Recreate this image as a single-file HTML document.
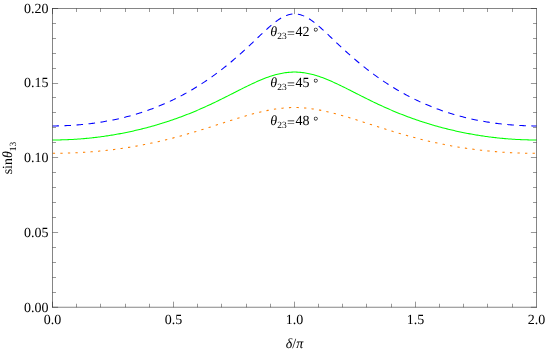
<!DOCTYPE html>
<html><head><meta charset="utf-8"><title>plot</title>
<style>html,body{margin:0;padding:0;background:#fff;width:545px;height:351px;overflow:hidden}</style></head>
<body>
<svg width="545" height="351" viewBox="0 0 545 351" style="display:block;position:absolute;left:0;top:0">
<rect width="545" height="351" fill="#fff"/>
<path d="M52.50,125.92 L53.71,125.92 L54.92,125.91 L56.13,125.90 L57.34,125.88 L58.55,125.86 L59.76,125.83 L60.97,125.80 L62.18,125.77 L63.39,125.73 L64.60,125.69 L65.81,125.64 L67.02,125.58 L68.23,125.53 L69.44,125.46 L70.65,125.40 L71.86,125.32 L73.07,125.25 L74.28,125.16 L75.49,125.08 L76.70,124.99 L77.91,124.89 L79.12,124.79 L80.33,124.68 L81.54,124.57 L82.75,124.46 L83.96,124.34 L85.17,124.21 L86.38,124.08 L87.59,123.95 L88.80,123.81 L90.01,123.66 L91.22,123.51 L92.43,123.36 L93.64,123.20 L94.85,123.03 L96.06,122.86 L97.27,122.69 L98.48,122.51 L99.69,122.32 L100.90,122.13 L102.11,121.94 L103.32,121.73 L104.53,121.53 L105.74,121.32 L106.95,121.10 L108.16,120.88 L109.37,120.65 L110.58,120.41 L111.79,120.17 L113.00,119.93 L114.21,119.68 L115.42,119.42 L116.63,119.16 L117.84,118.89 L119.05,118.62 L120.26,118.34 L121.47,118.06 L122.68,117.77 L123.89,117.47 L125.10,117.17 L126.31,116.86 L127.52,116.55 L128.73,116.22 L129.94,115.90 L131.15,115.57 L132.36,115.23 L133.57,114.88 L134.78,114.53 L135.99,114.17 L137.20,113.81 L138.41,113.44 L139.62,113.06 L140.83,112.67 L142.04,112.28 L143.25,111.89 L144.46,111.48 L145.67,111.07 L146.88,110.65 L148.09,110.23 L149.30,109.80 L150.51,109.36 L151.72,108.92 L152.93,108.46 L154.14,108.00 L155.35,107.54 L156.56,107.06 L157.77,106.58 L158.98,106.09 L160.19,105.60 L161.40,105.09 L162.61,104.58 L163.82,104.06 L165.03,103.54 L166.24,103.00 L167.45,102.46 L168.66,101.91 L169.87,101.36 L171.08,100.79 L172.29,100.22 L173.50,99.64 L174.71,99.05 L175.92,98.45 L177.13,97.85 L178.34,97.23 L179.55,96.61 L180.76,95.98 L181.97,95.34 L183.18,94.70 L184.39,94.04 L185.60,93.38 L186.81,92.71 L188.02,92.03 L189.23,91.34 L190.44,90.64 L191.65,89.93 L192.86,89.22 L194.07,88.50 L195.28,87.76 L196.49,87.02 L197.70,86.27 L198.91,85.51 L200.12,84.74 L201.33,83.97 L202.54,83.18 L203.75,82.38 L204.96,81.58 L206.17,80.77 L207.38,79.94 L208.59,79.11 L209.80,78.27 L211.01,77.42 L212.22,76.56 L213.43,75.69 L214.64,74.81 L215.85,73.92 L217.06,73.02 L218.27,72.11 L219.48,71.20 L220.69,70.27 L221.90,69.34 L223.11,68.39 L224.32,67.44 L225.53,66.47 L226.74,65.50 L227.95,64.51 L229.16,63.52 L230.37,62.52 L231.58,61.51 L232.79,60.49 L234.00,59.45 L235.21,58.42 L236.42,57.37 L237.63,56.31 L238.84,55.24 L240.05,54.17 L241.26,53.08 L242.47,51.99 L243.68,50.89 L244.89,49.78 L246.10,48.67 L247.31,47.55 L248.52,46.42 L249.73,45.29 L250.94,44.15 L252.15,43.01 L253.36,41.86 L254.57,40.71 L255.78,39.56 L256.99,38.40 L258.20,37.25 L259.41,36.10 L260.62,34.95 L261.83,33.81 L263.04,32.68 L264.25,31.55 L265.46,30.43 L266.67,29.33 L267.88,28.24 L269.09,27.16 L270.30,26.11 L271.51,25.08 L272.72,24.08 L273.93,23.10 L275.14,22.15 L276.35,21.25 L277.56,20.37 L278.77,19.55 L279.98,18.76 L281.19,18.02 L282.40,17.34 L283.61,16.71 L284.82,16.14 L286.03,15.62 L287.24,15.17 L288.45,14.79 L289.66,14.47 L290.87,14.22 L292.08,14.04 L293.29,13.93 L294.50,13.90 L295.71,13.93 L296.92,14.04 L298.13,14.22 L299.34,14.47 L300.55,14.79 L301.76,15.17 L302.97,15.62 L304.18,16.14 L305.39,16.71 L306.60,17.34 L307.81,18.02 L309.02,18.76 L310.23,19.55 L311.44,20.37 L312.65,21.25 L313.86,22.15 L315.07,23.10 L316.28,24.08 L317.49,25.08 L318.70,26.11 L319.91,27.16 L321.12,28.24 L322.33,29.33 L323.54,30.43 L324.75,31.55 L325.96,32.68 L327.17,33.81 L328.38,34.95 L329.59,36.10 L330.80,37.25 L332.01,38.40 L333.22,39.56 L334.43,40.71 L335.64,41.86 L336.85,43.01 L338.06,44.15 L339.27,45.29 L340.48,46.42 L341.69,47.55 L342.90,48.67 L344.11,49.78 L345.32,50.89 L346.53,51.99 L347.74,53.08 L348.95,54.17 L350.16,55.24 L351.37,56.31 L352.58,57.37 L353.79,58.42 L355.00,59.45 L356.21,60.49 L357.42,61.51 L358.63,62.52 L359.84,63.52 L361.05,64.51 L362.26,65.50 L363.47,66.47 L364.68,67.44 L365.89,68.39 L367.10,69.34 L368.31,70.27 L369.52,71.20 L370.73,72.11 L371.94,73.02 L373.15,73.92 L374.36,74.81 L375.57,75.69 L376.78,76.56 L377.99,77.42 L379.20,78.27 L380.41,79.11 L381.62,79.94 L382.83,80.77 L384.04,81.58 L385.25,82.38 L386.46,83.18 L387.67,83.97 L388.88,84.74 L390.09,85.51 L391.30,86.27 L392.51,87.02 L393.72,87.76 L394.93,88.50 L396.14,89.22 L397.35,89.93 L398.56,90.64 L399.77,91.34 L400.98,92.03 L402.19,92.71 L403.40,93.38 L404.61,94.04 L405.82,94.70 L407.03,95.34 L408.24,95.98 L409.45,96.61 L410.66,97.23 L411.87,97.85 L413.08,98.45 L414.29,99.05 L415.50,99.64 L416.71,100.22 L417.92,100.79 L419.13,101.36 L420.34,101.91 L421.55,102.46 L422.76,103.00 L423.97,103.54 L425.18,104.06 L426.39,104.58 L427.60,105.09 L428.81,105.60 L430.02,106.09 L431.23,106.58 L432.44,107.06 L433.65,107.54 L434.86,108.00 L436.07,108.46 L437.28,108.92 L438.49,109.36 L439.70,109.80 L440.91,110.23 L442.12,110.65 L443.33,111.07 L444.54,111.48 L445.75,111.89 L446.96,112.28 L448.17,112.67 L449.38,113.06 L450.59,113.44 L451.80,113.81 L453.01,114.17 L454.22,114.53 L455.43,114.88 L456.64,115.23 L457.85,115.57 L459.06,115.90 L460.27,116.22 L461.48,116.55 L462.69,116.86 L463.90,117.17 L465.11,117.47 L466.32,117.77 L467.53,118.06 L468.74,118.34 L469.95,118.62 L471.16,118.89 L472.37,119.16 L473.58,119.42 L474.79,119.68 L476.00,119.93 L477.21,120.17 L478.42,120.41 L479.63,120.65 L480.84,120.88 L482.05,121.10 L483.26,121.32 L484.47,121.53 L485.68,121.73 L486.89,121.94 L488.10,122.13 L489.31,122.32 L490.52,122.51 L491.73,122.69 L492.94,122.86 L494.15,123.03 L495.36,123.20 L496.57,123.36 L497.78,123.51 L498.99,123.66 L500.20,123.81 L501.41,123.95 L502.62,124.08 L503.83,124.21 L505.04,124.34 L506.25,124.46 L507.46,124.57 L508.67,124.68 L509.88,124.79 L511.09,124.89 L512.30,124.99 L513.51,125.08 L514.72,125.16 L515.93,125.25 L517.14,125.32 L518.35,125.40 L519.56,125.46 L520.77,125.53 L521.98,125.58 L523.19,125.64 L524.40,125.69 L525.61,125.73 L526.82,125.77 L528.03,125.80 L529.24,125.83 L530.45,125.86 L531.66,125.88 L532.87,125.90 L534.08,125.91 L535.29,125.92 L536.50,125.92" fill="none" stroke="#0000ff" stroke-width="1.05" stroke-dasharray="6.6 5.5" stroke-dashoffset="0.2"/>
<path d="M52.50,139.98 L53.71,139.98 L54.92,139.98 L56.13,139.97 L57.34,139.95 L58.55,139.93 L59.76,139.91 L60.97,139.88 L62.18,139.85 L63.39,139.82 L64.60,139.78 L65.81,139.74 L67.02,139.69 L68.23,139.64 L69.44,139.59 L70.65,139.53 L71.86,139.46 L73.07,139.40 L74.28,139.33 L75.49,139.25 L76.70,139.17 L77.91,139.09 L79.12,139.00 L80.33,138.91 L81.54,138.82 L82.75,138.72 L83.96,138.61 L85.17,138.51 L86.38,138.39 L87.59,138.28 L88.80,138.16 L90.01,138.04 L91.22,137.91 L92.43,137.78 L93.64,137.64 L94.85,137.50 L96.06,137.36 L97.27,137.21 L98.48,137.06 L99.69,136.90 L100.90,136.74 L102.11,136.58 L103.32,136.41 L104.53,136.24 L105.74,136.06 L106.95,135.88 L108.16,135.70 L109.37,135.51 L110.58,135.32 L111.79,135.12 L113.00,134.92 L114.21,134.72 L115.42,134.51 L116.63,134.30 L117.84,134.08 L119.05,133.86 L120.26,133.63 L121.47,133.40 L122.68,133.17 L123.89,132.93 L125.10,132.69 L126.31,132.45 L127.52,132.20 L128.73,131.94 L129.94,131.69 L131.15,131.42 L132.36,131.16 L133.57,130.89 L134.78,130.61 L135.99,130.34 L137.20,130.05 L138.41,129.77 L139.62,129.47 L140.83,129.18 L142.04,128.88 L143.25,128.57 L144.46,128.27 L145.67,127.95 L146.88,127.64 L148.09,127.31 L149.30,126.99 L150.51,126.66 L151.72,126.32 L152.93,125.98 L154.14,125.64 L155.35,125.29 L156.56,124.94 L157.77,124.58 L158.98,124.22 L160.19,123.85 L161.40,123.48 L162.61,123.11 L163.82,122.73 L165.03,122.34 L166.24,121.95 L167.45,121.56 L168.66,121.16 L169.87,120.76 L171.08,120.35 L172.29,119.94 L173.50,119.52 L174.71,119.10 L175.92,118.67 L177.13,118.24 L178.34,117.80 L179.55,117.36 L180.76,116.91 L181.97,116.46 L183.18,116.00 L184.39,115.54 L185.60,115.07 L186.81,114.60 L188.02,114.12 L189.23,113.64 L190.44,113.16 L191.65,112.67 L192.86,112.17 L194.07,111.67 L195.28,111.16 L196.49,110.65 L197.70,110.14 L198.91,109.62 L200.12,109.09 L201.33,108.56 L202.54,108.03 L203.75,107.49 L204.96,106.94 L206.17,106.39 L207.38,105.84 L208.59,105.28 L209.80,104.72 L211.01,104.16 L212.22,103.59 L213.43,103.01 L214.64,102.43 L215.85,101.85 L217.06,101.27 L218.27,100.68 L219.48,100.09 L220.69,99.49 L221.90,98.89 L223.11,98.29 L224.32,97.69 L225.53,97.08 L226.74,96.47 L227.95,95.86 L229.16,95.25 L230.37,94.64 L231.58,94.02 L232.79,93.41 L234.00,92.79 L235.21,92.18 L236.42,91.56 L237.63,90.95 L238.84,90.34 L240.05,89.73 L241.26,89.12 L242.47,88.51 L243.68,87.90 L244.89,87.30 L246.10,86.70 L247.31,86.11 L248.52,85.52 L249.73,84.93 L250.94,84.35 L252.15,83.78 L253.36,83.22 L254.57,82.66 L255.78,82.11 L256.99,81.56 L258.20,81.03 L259.41,80.51 L260.62,79.99 L261.83,79.49 L263.04,79.00 L264.25,78.52 L265.46,78.06 L266.67,77.60 L267.88,77.17 L269.09,76.74 L270.30,76.33 L271.51,75.94 L272.72,75.56 L273.93,75.20 L275.14,74.86 L276.35,74.54 L277.56,74.23 L278.77,73.94 L279.98,73.67 L281.19,73.43 L282.40,73.20 L283.61,72.99 L284.82,72.80 L286.03,72.64 L287.24,72.49 L288.45,72.37 L289.66,72.27 L290.87,72.19 L292.08,72.14 L293.29,72.10 L294.50,72.09 L295.71,72.10 L296.92,72.14 L298.13,72.19 L299.34,72.27 L300.55,72.37 L301.76,72.49 L302.97,72.64 L304.18,72.80 L305.39,72.99 L306.60,73.20 L307.81,73.43 L309.02,73.67 L310.23,73.94 L311.44,74.23 L312.65,74.54 L313.86,74.86 L315.07,75.20 L316.28,75.56 L317.49,75.94 L318.70,76.33 L319.91,76.74 L321.12,77.17 L322.33,77.60 L323.54,78.06 L324.75,78.52 L325.96,79.00 L327.17,79.49 L328.38,79.99 L329.59,80.51 L330.80,81.03 L332.01,81.56 L333.22,82.11 L334.43,82.66 L335.64,83.22 L336.85,83.78 L338.06,84.35 L339.27,84.93 L340.48,85.52 L341.69,86.11 L342.90,86.70 L344.11,87.30 L345.32,87.90 L346.53,88.51 L347.74,89.12 L348.95,89.73 L350.16,90.34 L351.37,90.95 L352.58,91.56 L353.79,92.18 L355.00,92.79 L356.21,93.41 L357.42,94.02 L358.63,94.64 L359.84,95.25 L361.05,95.86 L362.26,96.47 L363.47,97.08 L364.68,97.69 L365.89,98.29 L367.10,98.89 L368.31,99.49 L369.52,100.09 L370.73,100.68 L371.94,101.27 L373.15,101.85 L374.36,102.43 L375.57,103.01 L376.78,103.59 L377.99,104.16 L379.20,104.72 L380.41,105.28 L381.62,105.84 L382.83,106.39 L384.04,106.94 L385.25,107.49 L386.46,108.03 L387.67,108.56 L388.88,109.09 L390.09,109.62 L391.30,110.14 L392.51,110.65 L393.72,111.16 L394.93,111.67 L396.14,112.17 L397.35,112.67 L398.56,113.16 L399.77,113.64 L400.98,114.12 L402.19,114.60 L403.40,115.07 L404.61,115.54 L405.82,116.00 L407.03,116.46 L408.24,116.91 L409.45,117.36 L410.66,117.80 L411.87,118.24 L413.08,118.67 L414.29,119.10 L415.50,119.52 L416.71,119.94 L417.92,120.35 L419.13,120.76 L420.34,121.16 L421.55,121.56 L422.76,121.95 L423.97,122.34 L425.18,122.73 L426.39,123.11 L427.60,123.48 L428.81,123.85 L430.02,124.22 L431.23,124.58 L432.44,124.94 L433.65,125.29 L434.86,125.64 L436.07,125.98 L437.28,126.32 L438.49,126.66 L439.70,126.99 L440.91,127.31 L442.12,127.64 L443.33,127.95 L444.54,128.27 L445.75,128.57 L446.96,128.88 L448.17,129.18 L449.38,129.47 L450.59,129.77 L451.80,130.05 L453.01,130.34 L454.22,130.61 L455.43,130.89 L456.64,131.16 L457.85,131.42 L459.06,131.69 L460.27,131.94 L461.48,132.20 L462.69,132.45 L463.90,132.69 L465.11,132.93 L466.32,133.17 L467.53,133.40 L468.74,133.63 L469.95,133.86 L471.16,134.08 L472.37,134.30 L473.58,134.51 L474.79,134.72 L476.00,134.92 L477.21,135.12 L478.42,135.32 L479.63,135.51 L480.84,135.70 L482.05,135.88 L483.26,136.06 L484.47,136.24 L485.68,136.41 L486.89,136.58 L488.10,136.74 L489.31,136.90 L490.52,137.06 L491.73,137.21 L492.94,137.36 L494.15,137.50 L495.36,137.64 L496.57,137.78 L497.78,137.91 L498.99,138.04 L500.20,138.16 L501.41,138.28 L502.62,138.39 L503.83,138.51 L505.04,138.61 L506.25,138.72 L507.46,138.82 L508.67,138.91 L509.88,139.00 L511.09,139.09 L512.30,139.17 L513.51,139.25 L514.72,139.33 L515.93,139.40 L517.14,139.46 L518.35,139.53 L519.56,139.59 L520.77,139.64 L521.98,139.69 L523.19,139.74 L524.40,139.78 L525.61,139.82 L526.82,139.85 L528.03,139.88 L529.24,139.91 L530.45,139.93 L531.66,139.95 L532.87,139.97 L534.08,139.98 L535.29,139.98 L536.50,139.98" fill="none" stroke="#00ff00" stroke-width="1.05"/>
<path d="M52.50,153.33 L53.71,153.33 L54.92,153.32 L56.13,153.31 L57.34,153.30 L58.55,153.29 L59.76,153.27 L60.97,153.26 L62.18,153.23 L63.39,153.21 L64.60,153.18 L65.81,153.15 L67.02,153.12 L68.23,153.08 L69.44,153.04 L70.65,153.00 L71.86,152.95 L73.07,152.91 L74.28,152.85 L75.49,152.80 L76.70,152.74 L77.91,152.68 L79.12,152.62 L80.33,152.55 L81.54,152.48 L82.75,152.41 L83.96,152.34 L85.17,152.26 L86.38,152.18 L87.59,152.09 L88.80,152.01 L90.01,151.92 L91.22,151.82 L92.43,151.73 L93.64,151.63 L94.85,151.52 L96.06,151.42 L97.27,151.31 L98.48,151.20 L99.69,151.08 L100.90,150.96 L102.11,150.84 L103.32,150.72 L104.53,150.59 L105.74,150.46 L106.95,150.33 L108.16,150.19 L109.37,150.05 L110.58,149.91 L111.79,149.76 L113.00,149.61 L114.21,149.46 L115.42,149.30 L116.63,149.14 L117.84,148.98 L119.05,148.81 L120.26,148.64 L121.47,148.47 L122.68,148.30 L123.89,148.12 L125.10,147.94 L126.31,147.75 L127.52,147.56 L128.73,147.37 L129.94,147.17 L131.15,146.97 L132.36,146.77 L133.57,146.57 L134.78,146.36 L135.99,146.14 L137.20,145.93 L138.41,145.71 L139.62,145.49 L140.83,145.26 L142.04,145.03 L143.25,144.80 L144.46,144.56 L145.67,144.32 L146.88,144.08 L148.09,143.83 L149.30,143.58 L150.51,143.33 L151.72,143.07 L152.93,142.81 L154.14,142.55 L155.35,142.28 L156.56,142.01 L157.77,141.74 L158.98,141.46 L160.19,141.18 L161.40,140.90 L162.61,140.61 L163.82,140.32 L165.03,140.03 L166.24,139.73 L167.45,139.43 L168.66,139.13 L169.87,138.82 L171.08,138.51 L172.29,138.20 L173.50,137.88 L174.71,137.56 L175.92,137.24 L177.13,136.91 L178.34,136.59 L179.55,136.25 L180.76,135.92 L181.97,135.58 L183.18,135.24 L184.39,134.90 L185.60,134.56 L186.81,134.21 L188.02,133.86 L189.23,133.50 L190.44,133.15 L191.65,132.79 L192.86,132.43 L194.07,132.07 L195.28,131.70 L196.49,131.34 L197.70,130.97 L198.91,130.59 L200.12,130.22 L201.33,129.85 L202.54,129.47 L203.75,129.09 L204.96,128.71 L206.17,128.33 L207.38,127.95 L208.59,127.56 L209.80,127.18 L211.01,126.79 L212.22,126.41 L213.43,126.02 L214.64,125.63 L215.85,125.24 L217.06,124.85 L218.27,124.46 L219.48,124.07 L220.69,123.68 L221.90,123.29 L223.11,122.90 L224.32,122.52 L225.53,122.13 L226.74,121.74 L227.95,121.35 L229.16,120.97 L230.37,120.59 L231.58,120.20 L232.79,119.82 L234.00,119.44 L235.21,119.07 L236.42,118.69 L237.63,118.32 L238.84,117.95 L240.05,117.58 L241.26,117.22 L242.47,116.86 L243.68,116.50 L244.89,116.15 L246.10,115.80 L247.31,115.45 L248.52,115.11 L249.73,114.77 L250.94,114.44 L252.15,114.11 L253.36,113.78 L254.57,113.46 L255.78,113.15 L256.99,112.84 L258.20,112.54 L259.41,112.25 L260.62,111.96 L261.83,111.68 L263.04,111.40 L264.25,111.13 L265.46,110.87 L266.67,110.62 L267.88,110.37 L269.09,110.14 L270.30,109.91 L271.51,109.69 L272.72,109.48 L273.93,109.28 L275.14,109.08 L276.35,108.90 L277.56,108.73 L278.77,108.57 L279.98,108.42 L281.19,108.28 L282.40,108.15 L283.61,108.03 L284.82,107.93 L286.03,107.83 L287.24,107.75 L288.45,107.68 L289.66,107.62 L290.87,107.58 L292.08,107.55 L293.29,107.53 L294.50,107.52 L295.71,107.53 L296.92,107.55 L298.13,107.58 L299.34,107.62 L300.55,107.68 L301.76,107.75 L302.97,107.83 L304.18,107.93 L305.39,108.03 L306.60,108.15 L307.81,108.28 L309.02,108.42 L310.23,108.57 L311.44,108.73 L312.65,108.90 L313.86,109.08 L315.07,109.28 L316.28,109.48 L317.49,109.69 L318.70,109.91 L319.91,110.14 L321.12,110.37 L322.33,110.62 L323.54,110.87 L324.75,111.13 L325.96,111.40 L327.17,111.68 L328.38,111.96 L329.59,112.25 L330.80,112.54 L332.01,112.84 L333.22,113.15 L334.43,113.46 L335.64,113.78 L336.85,114.11 L338.06,114.44 L339.27,114.77 L340.48,115.11 L341.69,115.45 L342.90,115.80 L344.11,116.15 L345.32,116.50 L346.53,116.86 L347.74,117.22 L348.95,117.58 L350.16,117.95 L351.37,118.32 L352.58,118.69 L353.79,119.07 L355.00,119.44 L356.21,119.82 L357.42,120.20 L358.63,120.59 L359.84,120.97 L361.05,121.35 L362.26,121.74 L363.47,122.13 L364.68,122.52 L365.89,122.90 L367.10,123.29 L368.31,123.68 L369.52,124.07 L370.73,124.46 L371.94,124.85 L373.15,125.24 L374.36,125.63 L375.57,126.02 L376.78,126.41 L377.99,126.79 L379.20,127.18 L380.41,127.56 L381.62,127.95 L382.83,128.33 L384.04,128.71 L385.25,129.09 L386.46,129.47 L387.67,129.85 L388.88,130.22 L390.09,130.59 L391.30,130.97 L392.51,131.34 L393.72,131.70 L394.93,132.07 L396.14,132.43 L397.35,132.79 L398.56,133.15 L399.77,133.50 L400.98,133.86 L402.19,134.21 L403.40,134.56 L404.61,134.90 L405.82,135.24 L407.03,135.58 L408.24,135.92 L409.45,136.25 L410.66,136.59 L411.87,136.91 L413.08,137.24 L414.29,137.56 L415.50,137.88 L416.71,138.20 L417.92,138.51 L419.13,138.82 L420.34,139.13 L421.55,139.43 L422.76,139.73 L423.97,140.03 L425.18,140.32 L426.39,140.61 L427.60,140.90 L428.81,141.18 L430.02,141.46 L431.23,141.74 L432.44,142.01 L433.65,142.28 L434.86,142.55 L436.07,142.81 L437.28,143.07 L438.49,143.33 L439.70,143.58 L440.91,143.83 L442.12,144.08 L443.33,144.32 L444.54,144.56 L445.75,144.80 L446.96,145.03 L448.17,145.26 L449.38,145.49 L450.59,145.71 L451.80,145.93 L453.01,146.14 L454.22,146.36 L455.43,146.57 L456.64,146.77 L457.85,146.97 L459.06,147.17 L460.27,147.37 L461.48,147.56 L462.69,147.75 L463.90,147.94 L465.11,148.12 L466.32,148.30 L467.53,148.47 L468.74,148.64 L469.95,148.81 L471.16,148.98 L472.37,149.14 L473.58,149.30 L474.79,149.46 L476.00,149.61 L477.21,149.76 L478.42,149.91 L479.63,150.05 L480.84,150.19 L482.05,150.33 L483.26,150.46 L484.47,150.59 L485.68,150.72 L486.89,150.84 L488.10,150.96 L489.31,151.08 L490.52,151.20 L491.73,151.31 L492.94,151.42 L494.15,151.52 L495.36,151.63 L496.57,151.73 L497.78,151.82 L498.99,151.92 L500.20,152.01 L501.41,152.09 L502.62,152.18 L503.83,152.26 L505.04,152.34 L506.25,152.41 L507.46,152.48 L508.67,152.55 L509.88,152.62 L511.09,152.68 L512.30,152.74 L513.51,152.80 L514.72,152.85 L515.93,152.91 L517.14,152.95 L518.35,153.00 L519.56,153.04 L520.77,153.08 L521.98,153.12 L523.19,153.15 L524.40,153.18 L525.61,153.21 L526.82,153.23 L528.03,153.26 L529.24,153.27 L530.45,153.29 L531.66,153.30 L532.87,153.31 L534.08,153.32 L535.29,153.33 L536.50,153.33" fill="none" stroke="#ff8000" stroke-width="1.05" stroke-dasharray="2.3 5.25" stroke-dashoffset="-0.3"/>
<g stroke="#000" stroke-opacity="0.4" stroke-width="1" fill="none">
<path stroke-opacity="0.48" d="M52.5,8.5H536.5 M52.5,307.25H536.5 M52.5,8.0V307.75 M536.5,8.0V307.75"/>
<path d="M52.5,307.25v-5.6 M52.5,8.5v5.6"/>
<path d="M52.5,307.25h5.6 M536.5,307.25h-5.6"/>
<path d="M76.5,307.25v-3.5 M76.5,8.5v3.5"/>
<path d="M52.5,292.5h3.5 M536.5,292.5h-3.5"/>
<path d="M100.5,307.25v-3.5 M100.5,8.5v3.5"/>
<path d="M52.5,277.5h3.5 M536.5,277.5h-3.5"/>
<path d="M125.5,307.25v-3.5 M125.5,8.5v3.5"/>
<path d="M52.5,262.5h3.5 M536.5,262.5h-3.5"/>
<path d="M149.5,307.25v-3.5 M149.5,8.5v3.5"/>
<path d="M52.5,247.5h3.5 M536.5,247.5h-3.5"/>
<path d="M173.5,307.25v-5.6 M173.5,8.5v5.6"/>
<path d="M52.5,232.5h5.6 M536.5,232.5h-5.6"/>
<path d="M197.5,307.25v-3.5 M197.5,8.5v3.5"/>
<path d="M52.5,217.5h3.5 M536.5,217.5h-3.5"/>
<path d="M221.5,307.25v-3.5 M221.5,8.5v3.5"/>
<path d="M52.5,202.5h3.5 M536.5,202.5h-3.5"/>
<path d="M246.5,307.25v-3.5 M246.5,8.5v3.5"/>
<path d="M52.5,187.5h3.5 M536.5,187.5h-3.5"/>
<path d="M270.5,307.25v-3.5 M270.5,8.5v3.5"/>
<path d="M52.5,172.5h3.5 M536.5,172.5h-3.5"/>
<path d="M294.5,307.25v-5.6 M294.5,8.5v5.6"/>
<path d="M52.5,157.5h5.6 M536.5,157.5h-5.6"/>
<path d="M318.5,307.25v-3.5 M318.5,8.5v3.5"/>
<path d="M52.5,142.5h3.5 M536.5,142.5h-3.5"/>
<path d="M342.5,307.25v-3.5 M342.5,8.5v3.5"/>
<path d="M52.5,127.5h3.5 M536.5,127.5h-3.5"/>
<path d="M366.5,307.25v-3.5 M366.5,8.5v3.5"/>
<path d="M52.5,112.5h3.5 M536.5,112.5h-3.5"/>
<path d="M391.5,307.25v-3.5 M391.5,8.5v3.5"/>
<path d="M52.5,97.5h3.5 M536.5,97.5h-3.5"/>
<path d="M415.5,307.25v-5.6 M415.5,8.5v5.6"/>
<path d="M52.5,83.5h5.6 M536.5,83.5h-5.6"/>
<path d="M439.5,307.25v-3.5 M439.5,8.5v3.5"/>
<path d="M52.5,68.5h3.5 M536.5,68.5h-3.5"/>
<path d="M463.5,307.25v-3.5 M463.5,8.5v3.5"/>
<path d="M52.5,53.5h3.5 M536.5,53.5h-3.5"/>
<path d="M487.5,307.25v-3.5 M487.5,8.5v3.5"/>
<path d="M52.5,38.5h3.5 M536.5,38.5h-3.5"/>
<path d="M512.5,307.25v-3.5 M512.5,8.5v3.5"/>
<path d="M52.5,23.5h3.5 M536.5,23.5h-3.5"/>
<path d="M52.5,8.5h5.6 M536.5,8.5h-5.6"/>
</g>
<g font-family="'Liberation Serif', serif" font-size="14.0" fill="#000" style="will-change:transform" text-rendering="geometricPrecision">
<text x="48.4" y="311.55" text-anchor="end">0.00</text>
<text x="48.4" y="236.86" text-anchor="end">0.05</text>
<text x="48.4" y="162.18" text-anchor="end">0.10</text>
<text x="48.4" y="87.49" text-anchor="end">0.15</text>
<text x="48.4" y="12.80" text-anchor="end">0.20</text>
<text x="52.50" y="324.1" text-anchor="middle">0.0</text>
<text x="173.50" y="324.1" text-anchor="middle">0.5</text>
<text x="294.50" y="324.1" text-anchor="middle">1.0</text>
<text x="415.50" y="324.1" text-anchor="middle">1.5</text>
<text x="536.50" y="324.1" text-anchor="middle">2.0</text>
<text x="270.3" y="36.4"><tspan font-style="italic">θ</tspan><tspan font-size="9.5" dy="3">23</tspan><tspan dy="-1.5" dx="0.4">=</tspan><tspan dy="-1.5" dx="0.5">42 </tspan><tspan font-size="12.5" dx="0.2">°</tspan></text>
<text x="270.3" y="87.2"><tspan font-style="italic">θ</tspan><tspan font-size="9.5" dy="3">23</tspan><tspan dy="-1.5" dx="0.4">=</tspan><tspan dy="-1.5" dx="0.5">45 </tspan><tspan font-size="12.5" dx="0.2">°</tspan></text>
<text x="270.3" y="125.1"><tspan font-style="italic">θ</tspan><tspan font-size="9.5" dy="3">23</tspan><tspan dy="-1.5" dx="0.4">=</tspan><tspan dy="-1.5" dx="0.5">48 </tspan><tspan font-size="12.5" dx="0.2">°</tspan></text>
<text x="294.5" y="347.8" text-anchor="middle"><tspan font-style="italic">δ</tspan>/<tspan font-style="italic">π</tspan></text>
<text transform="translate(11.6,158) rotate(-90)" text-anchor="middle">sin<tspan font-style="italic">θ</tspan><tspan font-size="9.5" dy="4">13</tspan></text>
</g></svg>
</body></html>
